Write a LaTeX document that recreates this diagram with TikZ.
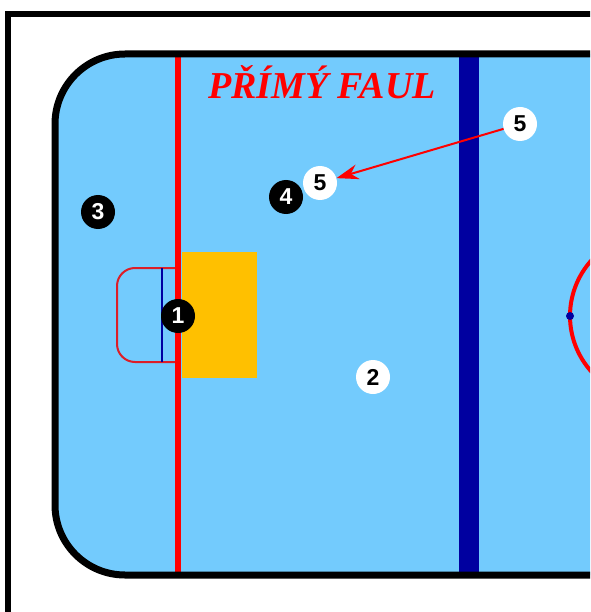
\documentclass[tikz,border=0pt]{standalone}
\usepackage{fontspec}
\setmainfont{Liberation Serif}
\setsansfont{Liberation Sans}
\usetikzlibrary{arrows.meta}
\newdimen\unitsize
\setlength{\unitsize}{1pt}
\definecolor{rinkblue}{RGB}{115,203,253}
\definecolor{lineblue}{RGB}{0,0,160}
\definecolor{creasered}{RGB}{220,30,40}
\definecolor{zoneorange}{RGB}{255,192,0}

\begin{document}
\begin{tikzpicture}[x=\unitsize,y=\unitsize,
  plblack/.style={circle,fill=black,text=white,minimum size=34,inner sep=0,
    font=\sffamily\bfseries\fontsize{23}{23}\selectfont},
  plwhite/.style={plblack,fill=white,text=black}]
\useasboundingbox (0,0) rectangle (590,-612);
\clip (0,0) rectangle (590,-612);
% frame and rink
\draw[line width=6] (8,-14) rectangle (700,-700);
\fill[rinkblue,rounded corners=70] (55,-54) rectangle (900,-575);
\fill[zoneorange] (182,-252) rectangle (257,-378);
\draw[creasered,line width=2,rounded corners=18]
  (178,-268)--(117,-268)--(117,-362)--(178,-362);
\draw[lineblue,line width=1.5] (162,-268)--(162,-362);
\fill[red] (175,-54) rectangle (181,-575);
\fill[lineblue] (459,-54) rectangle (479,-575);
\draw[red,line width=4] (653,-316) circle (83);
\fill[lineblue] (570,-316) circle (4);
\draw[line width=7,rounded corners=70] (55,-54) rectangle (900,-575);
\node[text=red,anchor=base,font=\bfseries\itshape\fontsize{38}{38}\selectfont]
  (title) at (322,-99) {PŘÍMÝ FAUL};
% players
\node[plblack] (p1) at (178,-316) {1};
\node[plblack] (p3) at (98,-212) {3};
\node[plblack] (p4) at (286,-197) {4};
\node[plwhite] (p5) at (320,-183) {5};
\node[plwhite] (p5old) at (520,-124) {5};
\node[plwhite] (p2) at (373,-377) {2};
\draw[red,line width=2,-{Stealth[length=22,width=15]}] (p5old)--(p5);
\end{tikzpicture}
\end{document}
